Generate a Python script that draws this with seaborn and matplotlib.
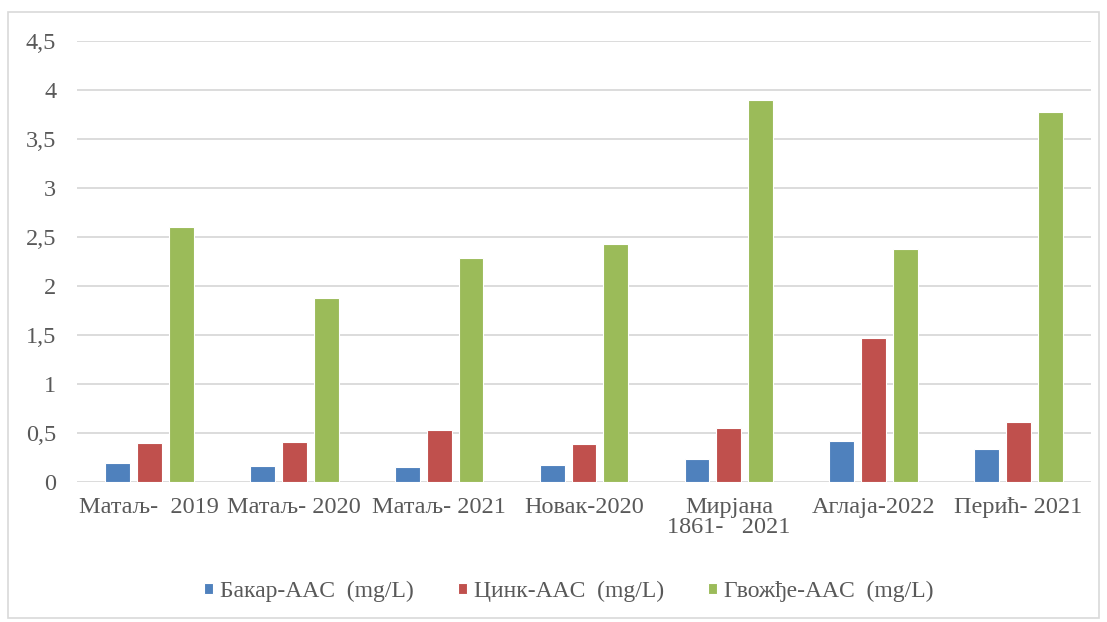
import matplotlib
matplotlib.use("Agg")
import matplotlib.pyplot as plt
import seaborn as sns
import pandas as pd
from matplotlib.patches import Rectangle
from matplotlib.ticker import FuncFormatter

categories = ["Матаљ-  2019", "Матаљ- 2020", "Матаљ- 2021", "Новак-2020",
              "Мирјана\n1861-   2021", "Аглаја-2022", "Перић- 2021"]
series_names = ["Бакар-AAC  (mg/L)", "Цинк-AAC  (mg/L)", "Гвожђе-AAC  (mg/L)"]
copper = [0.19, 0.16, 0.15, 0.17, 0.23, 0.42, 0.34]
zinc = [0.40, 0.41, 0.53, 0.39, 0.55, 1.47, 0.61]
iron = [2.60, 1.88, 2.29, 2.43, 3.90, 2.38, 3.78]
yticks = [0, 0.5, 1, 1.5, 2, 2.5, 3, 3.5, 4, 4.5]
colors = ["#4F81BD", "#C0504D", "#9BBB59"]

rows = []
for name, vals in zip(series_names, [copper, zinc, iron]):
    for c, v in zip(categories, vals):
        rows.append({"cat": c, "series": name, "value": v})
df = pd.DataFrame(rows)

sns.set_theme(style="white")
plt.rcParams["font.family"] = ["Liberation Serif", "DejaVu Serif"]
FS = 17.5
LFS = 17

fig = plt.figure(figsize=(11.07, 6.22), dpi=100)
ax = fig.add_axes([77/1107, 1-482/622, (1091-77)/1107, (482-41)/622])

sns.barplot(data=df, x="cat", y="value", hue="series", order=categories,
            hue_order=series_names, palette=colors, saturation=1, width=0.66, gap=0.22,
            edgecolor="white", linewidth=0.8, ax=ax, legend=True)

ax.set_ylim(0, 4.5)
ax.set_xlim(-0.5, len(categories) - 0.5)
ax.set_yticks(yticks)
ax.yaxis.set_major_formatter(FuncFormatter(lambda v, p: ("%g" % v).replace(".", ",")))
ax.grid(axis="y", color="#D9D9D9", linewidth=1.3)
ax.set_axisbelow(True)
for s in ax.spines.values():
    s.set_visible(False)
ax.set_xlabel("")
ax.set_ylabel("")
ax.tick_params(axis="y", length=0, pad=15, labelsize=FS, labelcolor="#595959")
ax.tick_params(axis="x", length=0, pad=11, labelsize=FS, labelcolor="#595959")
for t in ax.get_xticklabels():
    t.set_linespacing(0.95)

leg = ax.legend(loc="center", bbox_to_anchor=(0.485, -0.248), ncol=3, frameon=False,
                fontsize=LFS, handlelength=0.38, handleheight=0.38, handletextpad=0.3,
                columnspacing=1.86)
for t in leg.get_texts():
    t.set_color("#595959")

fig.patches.append(Rectangle((8/1107, 1-618/622), (1099-8)/1107, (618-12)/622,
                             transform=fig.transFigure, fill=False,
                             edgecolor="#D9D9D9", linewidth=1.2))

fig.savefig("out.png", dpi=100, facecolor="white")
